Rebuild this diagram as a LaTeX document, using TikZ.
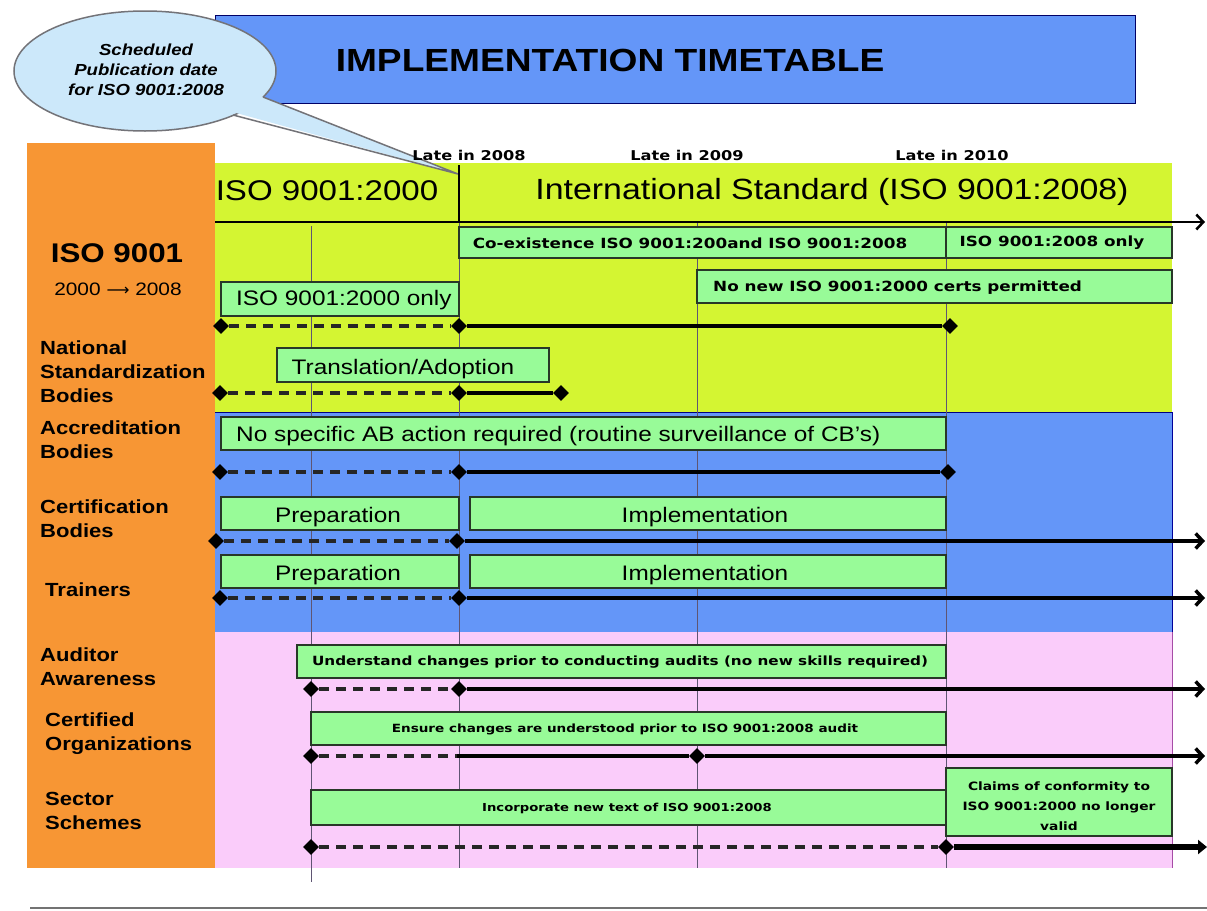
\documentclass[tikz,border=0pt]{standalone}
\usepackage{fontspec}
\setmainfont{Liberation Sans}[FakeStretch=1.16]
\newfontfamily\dvs{DejaVu Sans}[FakeStretch=1.2]
\newfontfamily\dvsn{DejaVu Sans}
\usetikzlibrary{shapes.geometric,arrows.meta}
\definecolor{ttblue}{RGB}{100,150,248}
\definecolor{ttorange}{RGB}{247,150,52}
\definecolor{ttyellow}{RGB}{212,245,50}
\definecolor{ttpink}{RGB}{250,204,250}
\definecolor{boxgreen}{RGB}{152,251,152}
\definecolor{boxline}{RGB}{40,55,40}
\definecolor{callfill}{RGB}{204,232,250}
\definecolor{callline}{RGB}{115,115,120}
\definecolor{gridc}{RGB}{95,85,115}
\newcommand\fs[2]{\fontsize{#1}{#2}\selectfont}
\newcommand\gb[5]{\node[gbox, anchor=north west, minimum width={#4-#2}, minimum height={#5-#3}] (#1) at (#2,#3) {};}
\begin{document}
\begin{tikzpicture}[x=1pt,y=-1pt,
  gbox/.style={draw=boxline, fill=boxgreen, line width=1.3pt, inner sep=0, outer sep=0},
  dia/.style={diamond, fill=black, inner sep=0, minimum width=16, minimum height=16},
  solidln/.style={line width=3.5pt, draw=black},
  dashln/.style={line width=3.5pt, draw=black!85, dash pattern=on 10pt off 7pt},
  gridln/.style={draw=gridc, line width=0.9pt},
  lbl/.style={font=\fs{19}{24}\bfseries, align=left, inner sep=0, anchor=west},
  btxt/.style={font=\fs{21}{24}, inner sep=0},
  sbtxt/.style={font=\dvs\bfseries\fs{14}{16}, inner sep=0},
  datelbl/.style={font=\dvs\bfseries\fs{13.5}{15}, inner sep=0},
  tip/.style={-{Straight Barb[length=7pt,width=15pt]}}
]
\useasboundingbox (0,0) rectangle (1207,910);
\fill[white] (0,0) rectangle (1207,910);
% regions
\fill[ttorange] (27,143) rectangle (215,868);
\fill[ttyellow] (215,163) rectangle (1172,412);
\fill[ttblue] (215,412) rectangle (1172,632);
\fill[ttpink] (215,632) rectangle (1172,868);
\draw[blue!60!black, line width=1pt] (1172,412) -- (1172,632);
\draw[blue!50!black, line width=0.8pt] (215,412) -- (1172,412);
\draw[violet!70, line width=0.8pt] (1172,632) -- (1172,868);
% title bar
\node[draw=blue!40!black, line width=0.8pt, fill=ttblue, anchor=north west, minimum width=920, minimum height=88, inner sep=0] (title) at (215,15) {};
\node[font=\fs{32}{36}\bfseries, inner sep=0] (titletxt) at (610,60) {IMPLEMENTATION TIMETABLE};
% callout
\node[ellipse, draw=callline, fill=callfill, line width=1.5pt, minimum width=262, minimum height=120, inner sep=0] (callout) at (145,71) {};
\coordinate (cb1) at (233,115);
\coordinate (cb2) at (263,97);
\coordinate (ctip) at (458,174);
\fill[callfill] (229,111) -- (ctip) -- (258,95) -- cycle;
\draw[callline, line width=1.5pt] (cb1) -- (ctip) -- (cb2);
\node[font=\bfseries\itshape\fs{16}{20}, align=center, inner sep=0] (callouttxt) at (146,70) {Scheduled\\Publication date\\for ISO 9001:2008};
% grid lines
\draw[gridln] (311,226) -- (311,882);
\draw[gridln] (459,222) -- (459,868);
\draw[gridln] (697,222) -- (697,868);
\draw[gridln] (946,222) -- (946,868);
\draw[black, line width=2.5pt] (459,165) -- (459,222);
% date labels
\node[datelbl] (d2008) at (469,155) {Late in 2008};
\node[datelbl] (d2009) at (687,155) {Late in 2009};
\node[datelbl] (d2010) at (952,155) {Late in 2010};
% header texts
\node[font=\fs{28.5}{32}, inner sep=0] (h2000) at (327,191) {ISO 9001:2000};
\node[font=\fs{29.2}{32}, inner sep=0] (h2008) at (832,192) {International Standard (ISO 9001:2008)};
\coordinate (axs) at (215,222);
\coordinate (axe) at (1205,222);
\draw[black, line width=2.5pt, tip] (axs) -- (axe);
% left labels
\node[font=\fs{27}{30}\bfseries, inner sep=0] (iso) at (117,253) {ISO 9001};
\node[font=\fs{18}{20}, inner sep=0] (isoyr) at (118,289) {2000 {\dvsn\fs{16}{20}⟶} 2008};
\node[lbl] (lnsb) at (40,372) {National\\Standardization\\Bodies};
\node[lbl] (lab) at (40,440) {Accreditation\\Bodies};
\node[lbl] (lcb) at (40,519) {Certification\\Bodies};
\node[lbl] (ltr) at (45,590) {Trainers};
\node[lbl] (laa) at (40,667) {Auditor\\Awareness};
\node[lbl] (lco) at (45,734) {Certified\\Organizations};
\node[lbl] (lss) at (45,811) {Sector\\Schemes};
% boxes
\gb{coex}{459}{227}{946}{258}
\gb{only8}{946}{227}{1172}{258}
\gb{nonew}{697}{270}{1172}{303}
\gb{only0}{221}{282}{459}{316}
\gb{transl}{277}{348}{549}{382}
\gb{noab}{221}{417}{946}{450}
\gb{prep1}{221}{497}{459}{530}
\gb{impl1}{470}{497}{946}{530}
\gb{prep2}{221}{555}{459}{588}
\gb{impl2}{470}{555}{946}{588}
\gb{unders}{297}{645}{946}{678}
\gb{ensure}{311}{712}{946}{745}
\gb{incorp}{311}{790}{946}{825}
\gb{claims}{946}{768}{1172}{836}
% box texts
\node[sbtxt] (tcoex) at (690,243) {Co-existence ISO 9001:200and ISO 9001:2008};
\node[sbtxt] (tonly8) at (1052,243) {ISO 9001:2008 only};
\node[sbtxt, anchor=west] (tnonew) at (713,288) {No new ISO 9001:2000 certs permitted};
\node[btxt, anchor=west] (tonly0) at (236,300) {ISO 9001:2000 only};
\node[btxt] (ttransl) at (403,369) {Translation/Adoption};
\node[btxt, anchor=west] (tnoab) at (236,436) {No specific AB action required (routine surveillance of CB’s)};
\node[btxt] (tprep1) at (338,517) {Preparation};
\node[btxt] (timpl1) at (705,517) {Implementation};
\node[btxt] (tprep2) at (338,575) {Preparation};
\node[btxt] (timpl2) at (705,575) {Implementation};
\node[font=\dvs\bfseries\fs{12.7}{15}, inner sep=0] (tunders) at (620,662) {Understand changes prior to conducting audits (no new skills required)};
\node[font=\dvs\bfseries\fs{11.3}{13}, inner sep=0] (tensure) at (625,729) {Ensure changes are understood prior to ISO 9001:2008 audit};
\node[font=\dvs\bfseries\fs{11}{13}, inner sep=0] (tincorp) at (627,808) {Incorporate new text of ISO 9001:2008};
\node[font=\dvs\bfseries\fs{11.5}{20}, inner sep=0, align=center] (tclaims) at (1059,806) {Claims of conformity to\\ISO 9001:2000 no longer\\valid};
% row 1
\node[dia] (r1a) at (221,326) {};
\node[dia] (r1b) at (459,326) {};
\node[dia] (r1c) at (950,326) {};
\draw[dashln] (r1a) -- (r1b);
\draw[solidln] (r1b) -- (r1c);
% row 2
\node[dia] (r2a) at (220,393) {};
\node[dia] (r2b) at (459,393) {};
\node[dia] (r2c) at (561,393) {};
\draw[dashln] (r2a) -- (r2b);
\draw[solidln] (r2b) -- (r2c);
% row 3
\node[dia] (r3a) at (220,472) {};
\node[dia] (r3b) at (459,472) {};
\node[dia] (r3c) at (948,472) {};
\draw[dashln] (r3a) -- (r3b);
\draw[solidln] (r3b) -- (r3c);
% row 4
\node[dia] (r4a) at (216,541) {};
\node[dia] (r4b) at (457,541) {};
\coordinate (r4e) at (1205,541);
\draw[dashln] (r4a) -- (r4b);
\draw[solidln, tip] (r4b) -- (r4e);
% row 5
\node[dia] (r5a) at (220,598) {};
\node[dia] (r5b) at (459,598) {};
\coordinate (r5e) at (1205,598);
\draw[dashln] (r5a) -- (r5b);
\draw[solidln, tip] (r5b) -- (r5e);
% row 6
\node[dia] (r6a) at (311,689) {};
\node[dia] (r6b) at (459,689) {};
\coordinate (r6e) at (1205,689);
\draw[dashln] (r6a) -- (r6b);
\draw[solidln, tip] (r6b) -- (r6e);
% row 7
\node[dia] (r7a) at (311,756) {};
\coordinate (r7m) at (457,756);
\node[dia] (r7b) at (697,756) {};
\coordinate (r7e) at (1205,756);
\draw[dashln] (r7a) -- (r7m);
\draw[solidln] (r7m) -- (r7b);
\draw[solidln, tip] (r7b) -- (r7e);
% row 8
\node[dia] (r8a) at (311,847) {};
\node[dia] (r8b) at (946,847) {};
\coordinate (r8e) at (1207,847);
\draw[dashln] (r8a) -- (r8b);
\draw[line width=5.5pt, -{Triangle[length=9pt,width=14pt]}] (r8b) -- (r8e);
% bottom rule
\coordinate (bl1) at (30,908);
\coordinate (bl2) at (1207,908);
\draw[black!55, line width=1.5pt] (bl1) -- (bl2);
\end{tikzpicture}
\end{document}
